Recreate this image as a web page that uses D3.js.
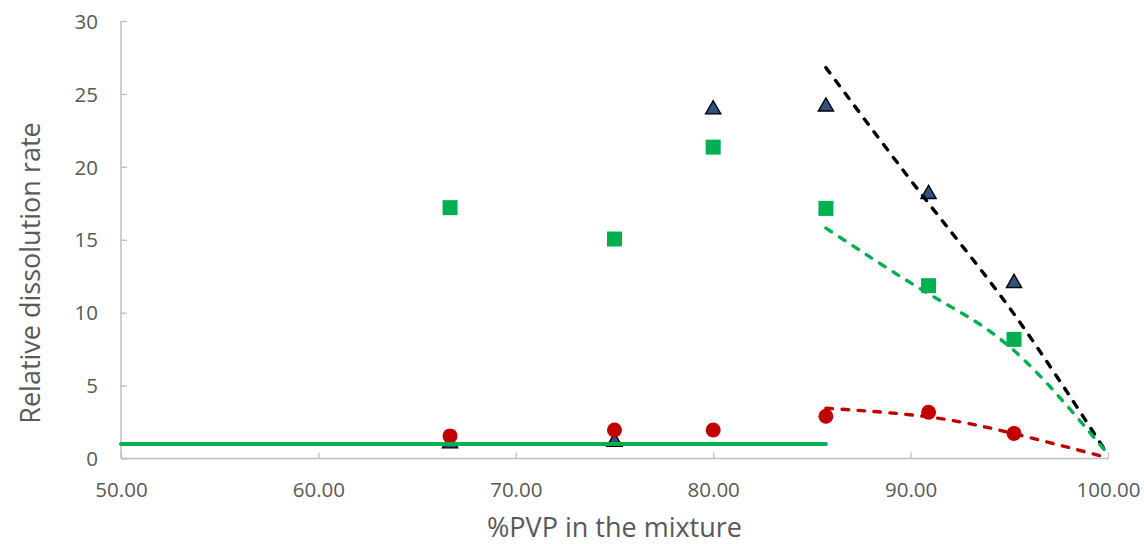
<!DOCTYPE html>
<html>
<head>
<meta charset="utf-8">
<script src="https://cdn.jsdelivr.net/npm/d3@7"></script>
<style>
  html, body { margin: 0; padding: 0; background: #fff; }
  svg { display: block; }
  text { font-family: "Open Sans", "DejaVu Sans", sans-serif; fill: #595959; }
</style>
</head>
<body>
<svg id="chart" width="1144" height="544"></svg>
<script>
// ---- data ----
const pvp = [66.67, 75.00, 80.00, 85.71, 90.91, 95.24];
const triangleSeries = [1.1, 1.2, 24.0, 24.2, 18.2, 12.1];
const squareSeries = [17.2, 15.05, 21.35, 17.15, 11.85, 8.17];
const circleSeries = [1.55, 1.95, 1.95, 2.9, 3.17, 1.72];

const baselineX = [50, 85.71];
const baselineY = [1, 1];

const trendX = [85.71, 90.91, 95.24, 100];
const trendBlack = [26.8, 17.5, 9.9, 0.25];
const trendGreen = [15.8, 11.3, 7.4, 0.3];
const trendRed = [3.45, 2.85, 1.7, 0.05];

const xTicks = [50, 60, 70, 80, 90, 100];
const yTicks = [0, 5, 10, 15, 20, 25, 30];

const xTitle = "%PVP in the mixture";
const yTitle = "Relative dissolution rate";

// ---- layout ----
const svg = d3.select("#chart");
const x = d3.scaleLinear().domain([50, 100]).range([121, 1108]);
const y = d3.scaleLinear().domain([0, 30]).range([458.5, 21]);

const axisColor = "#BFBFBF";

// x axis
const xAxis = d3.axisBottom(x).tickValues(xTicks).tickSize(-6).tickPadding(0).tickFormat(d3.format(".2f"));
const gx = svg.append("g").attr("transform", `translate(0,${y(0)})`).call(xAxis);
gx.select(".domain").attr("stroke", axisColor).attr("stroke-width", 1.5).attr("d", `M${x(50)},0H${x(100)}`);
gx.selectAll(".tick line").attr("stroke", axisColor).attr("stroke-width", 1.3);
gx.selectAll(".tick text").attr("y", 0).attr("dy", 0)
  .attr("transform", "translate(0,38.5)")
  .style("font-size", "20.5px").style("font-family", '"Open Sans", sans-serif').attr("fill", "#595959");

// y axis
const yAxis = d3.axisLeft(y).tickValues(yTicks).tickSize(-6).tickPadding(0).tickFormat(d3.format("d"));
const gy = svg.append("g").attr("transform", `translate(${x(50)},0)`).call(yAxis);
gy.select(".domain").attr("stroke", axisColor).attr("stroke-width", 1.5).attr("d", `M0,${y(0)}V${y(30)}`);
gy.selectAll(".tick line").attr("stroke", axisColor).attr("stroke-width", 1.3);
gy.selectAll(".tick text").attr("x", -23).attr("dy", "0.35em")
  .style("font-size", "20.5px").style("font-family", '"Open Sans", sans-serif').attr("fill", "#595959");

// axis titles
svg.append("text").attr("x", (x(50) + x(100)) / 2).attr("y", 537)
  .attr("text-anchor", "middle").style("font-size", "27px").text(xTitle);
svg.append("text").attr("transform", `translate(40,${273}) rotate(-90)`)
  .attr("text-anchor", "middle").style("font-size", "27px").text(yTitle);

// markers
const pts = (ys) => pvp.map((v, i) => [v, ys[i]]);

svg.append("g").selectAll("path").data(pts(triangleSeries)).join("path")
  .attr("d", d3.symbol().type(d3.symbolTriangle).size(100))
  .attr("transform", d => `translate(${x(d[0])},${y(d[1]) + 1})`)
  .attr("fill", "#2F5280").attr("stroke", "#000").attr("stroke-width", 1.4);

svg.append("g").selectAll("rect").data(pts(squareSeries)).join("rect")
  .attr("x", d => x(d[0]) - 7.5).attr("y", d => y(d[1]) - 7.5)
  .attr("width", 15).attr("height", 15).attr("fill", "#00B050");

svg.append("g").selectAll("circle").data(pts(circleSeries)).join("circle")
  .attr("cx", d => x(d[0])).attr("cy", d => y(d[1])).attr("r", 7.5)
  .attr("fill", "#C00000");

// baseline solid green
const line = d3.line().x(d => x(d[0])).y(d => y(d[1]));
svg.append("path").datum(baselineX.map((v, i) => [v, baselineY[i]]))
  .attr("d", line).attr("fill", "none").attr("stroke", "#00B050")
  .attr("stroke-width", 4).attr("stroke-linecap", "round");

// trend lines
const curve = d3.line().x(d => x(d[0])).y(d => y(d[1])).curve(d3.curveNatural);
[[trendBlack, "#000000"], [trendGreen, "#00B050"], [trendRed, "#C00000"]].forEach(([vals, col]) => {
  svg.append("path").datum(trendX.map((v, i) => [v, vals[i]]))
    .attr("d", curve).attr("fill", "none").attr("stroke", col)
    .attr("stroke-width", 3.4).attr("stroke-dasharray", "6.5,9.5").attr("stroke-linecap", "round");
});
</script>
</body>
</html>
